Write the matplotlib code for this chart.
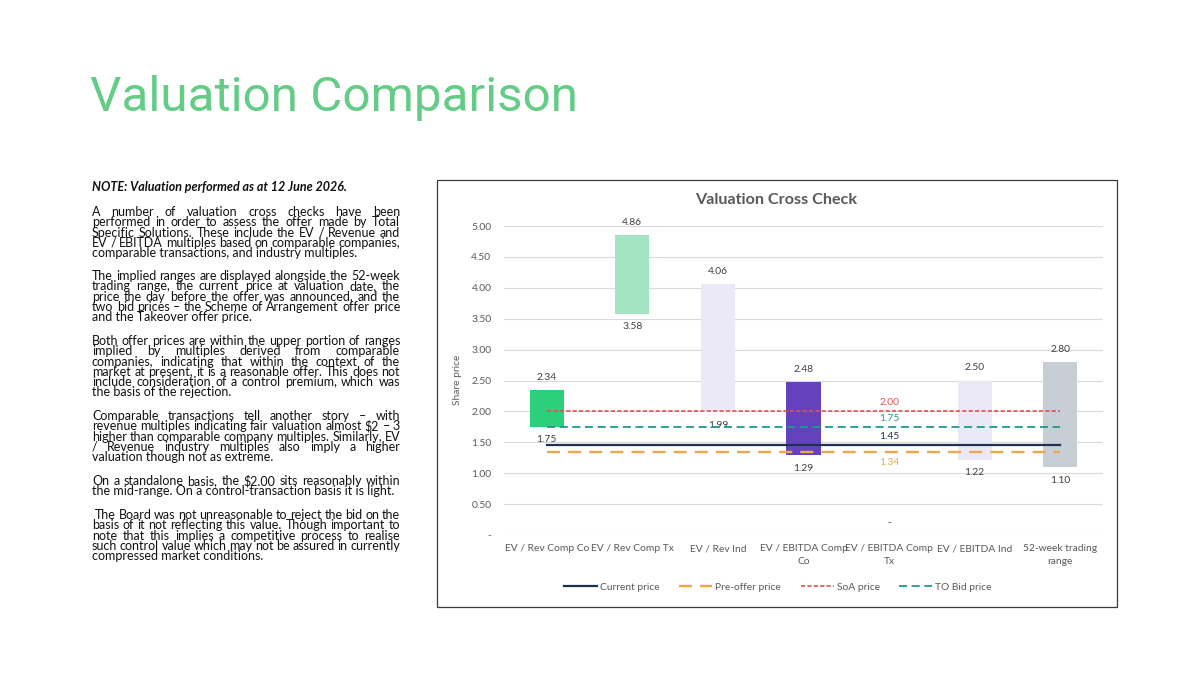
import matplotlib
matplotlib.use('Agg')
import matplotlib.pyplot as plt
from matplotlib.patches import Rectangle
from matplotlib.transforms import IdentityTransform

plt.rcParams['font.family'] = ['Lato', 'DejaVu Sans']
plt.rcParams['lines.scale_dashes'] = False

# Data
categories = ['EV / Rev Comp Co', 'EV / Rev Comp Tx', 'EV / Rev Ind',
              'EV / EBITDA Comp\nCo', 'EV / EBITDA Comp\nTx', 'EV / EBITDA Ind',
              '52-week trading\nrange']
range_low = [1.75, 3.58, 1.99, 1.29, 0.0, 1.22, 1.10]
range_high = [2.34, 4.86, 4.06, 2.48, 0.0, 2.50, 2.80]
bar_colors = ['#2ecf7b', '#a3e4c3', '#ebe9f5', '#6542bd', '#ebe9f5', '#ebe9f5', '#c8ced6']

current_price = 1.45
pre_offer_price = 1.34
soa_price = 2.00
to_bid_price = 1.75
yticks = [0, 0.5, 1.0, 1.5, 2.0, 2.5, 3.0, 3.5, 4.0, 4.5, 5.0]

note_line = 'NOTE: Valuation performed as at 12 June 2026.'
paragraphs = [
    ['A number of valuation cross checks have been',
     'performed in order to assess the offer made by Total',
     'Specific Solutions. These include the EV / Revenue and',
     'EV / EBITDA multiples based on comparable companies,',
     'comparable transactions, and industry multiples.'],
    ['The implied ranges are displayed alongside the 52-week',
     'trading range, the current price at valuation date, the',
     'price the day before the offer was announced, and the',
     'two bid prices \u2013 the Scheme of Arrangement offer price',
     'and the Takeover offer price.'],
    ['Both offer prices are within the upper portion of ranges',
     'implied by multiples derived from comparable',
     'companies, indicating that within the context of the',
     'market at present, it is a reasonable offer. This does not',
     'include consideration of a control premium, which was',
     'the basis of the rejection.'],
    ['Comparable transactions tell another story \u2013 with',
     'revenue multiples indicating fair valuation almost $2 \u2013 3',
     'higher than comparable company multiples. Similarly, EV',
     '/ Revenue industry multiples also imply a higher',
     'valuation though not as extreme.'],
    ['On a standalone basis, the $2.00 sits reasonably within',
     'the mid-range. On a control-transaction basis it is light.'],
    ['The Board was not unreasonable to reject the bid on the',
     'basis of it not reflecting this value. Though important to',
     'note that this implies a competitive process to realise',
     'such control value which may not be assured in currently',
     'compressed market conditions.'],
]
paragraph_tops = [212, 276, 341, 416, 481, 515]

W, H = 1200, 675
fig = plt.figure(figsize=(12, 6.75), dpi=100)
fig.patch.set_facecolor('white')
px = IdentityTransform()
renderer = fig.canvas.get_renderer()

# Slide title
fig.text(90, H - 98, 'Valuation Comparison', transform=px, fontsize=35.6,
         color='#64cc86', family=['Roboto', 'DejaVu Sans'], va='center', ha='left')

# Left text block
body_size = 9.0
text_color = '#111111'
x_left, x_right = 92, 400
fig.text(x_left, H - 187, note_line, transform=px, fontsize=body_size,
         fontweight='bold', fontstyle='italic', color=text_color, va='center')


def justified_line(line, y, x0, x1, justify):
    if not justify:
        fig.text(x0, y, line, transform=px, fontsize=body_size,
                 color=text_color, va='center')
        return
    words = line.split(' ')
    texts = [fig.text(0, y, w, transform=px, fontsize=body_size,
                      color=text_color, va='center') for w in words]
    widths = [t.get_window_extent(renderer).width for t in texts]
    gap = max((x1 - x0 - sum(widths)) / max(len(words) - 1, 1), 1.5)
    x = x0
    for t, w in zip(texts, widths):
        t.set_x(x)
        x += w + gap


for p_i, (para, top) in enumerate(zip(paragraphs, paragraph_tops)):
    for l_i, line in enumerate(para):
        y = H - (top + l_i * 10.3)
        x0 = x_left + (3 if (p_i == 5 and l_i == 0) else 0)
        justified_line(line, y, x0, x_right, l_i < len(para) - 1)

# Chart frame
fig.patches.append(Rectangle((437, H - 607), 680, 427, transform=px,
                             facecolor='none', edgecolor='#3a3a3a', linewidth=0.9))

ax = fig.add_axes([504 / W, 140 / H, 599 / W, 309 / H])
ax.set_facecolor('none')
x = list(range(len(categories)))

fs = 7.4
heights = [h - l for h, l in zip(range_high, range_low)]
ax.bar(x, heights, bottom=range_low, width=0.40, color=bar_colors, zorder=2)

label_color = '#404040'
for i in x:
    if range_high[i] == 0:
        ax.annotate('-', (i, 0), xytext=(0, 9), textcoords='offset points',
                    ha='center', va='center', fontsize=fs, color=label_color)
        continue
    ax.annotate(f'{range_high[i]:.2f}', (i, range_high[i]), xytext=(0, 9),
                textcoords='offset points', ha='center', va='center',
                fontsize=fs, color=label_color, annotation_clip=False)
    ax.annotate(f'{range_low[i]:.2f}', (i, range_low[i]), xytext=(0, -9.4),
                textcoords='offset points', ha='center', va='center',
                fontsize=fs, color=label_color)

# Reference lines
x_line = [x[0], x[-1]]
navy, orange, red, teal = '#1f3150', '#e8a94f', '#e05252', '#1a9c8c'
ax.plot(x_line, [current_price] * 2, color=navy, lw=1.6, zorder=3, label='Current price')
ax.plot(x_line, [pre_offer_price] * 2, color=orange, lw=1.7, dashes=(9.4, 5.8),
        zorder=3, label='Pre-offer price')
ax.plot(x_line, [soa_price] * 2, color=red, lw=1.2, dashes=(3.0, 1.6),
        zorder=3, label='SoA price')
ax.plot(x_line, [to_bid_price] * 2, color=teal, lw=1.3, dashes=(5.8, 3.3),
        zorder=3, label='TO Bid price')

lbl_i = 4
for val, col, off in [(soa_price, red, 6.5), (to_bid_price, teal, 6),
                      (current_price, navy, 6.5), (pre_offer_price, orange, -7.2)]:
    ax.annotate(f'{val:.2f}', (lbl_i, val), xytext=(0, off), textcoords='offset points',
                ha='center', va='center', fontsize=fs, color=col)

ax.set_xlim(-0.5, len(categories) - 0.5)
ax.set_ylim(0, 5.0)
ax.set_yticks(yticks)
ax.set_yticklabels(['-' if v == 0 else f'{v:.2f}' for v in yticks])
ax.set_xticks(x)
ax.set_xticklabels(categories, linespacing=1.5)
ax.tick_params(axis='both', length=0, labelsize=fs, labelcolor='#595959')
ax.tick_params(axis='y', pad=9)
ax.tick_params(axis='x', pad=6.5)
ax.grid(axis='y', color='#d9d9d9', linewidth=0.8, zorder=0)
ax.set_axisbelow(True)
for s in ax.spines.values():
    s.set_visible(False)

fig.text(458, H - 380, 'Share price', transform=px, rotation=90, fontsize=fs,
         color='#595959', ha='center', va='center')
fig.text(776, H - 200, 'Valuation Cross Check', transform=px, fontsize=11.6,
         fontweight='bold', color='#595959', ha='center', va='center')

handles, labels = ax.get_legend_handles_labels()
leg = fig.legend(handles, labels, loc='center', bbox_to_anchor=(778 / W, 88 / H),
                 ncol=4, frameon=False, fontsize=fs, handlelength=3.2,
                 handletextpad=0.3, columnspacing=1.9)
for t in leg.get_texts():
    t.set_color('#595959')

fig.savefig('out.png', dpi=100, facecolor='white')
